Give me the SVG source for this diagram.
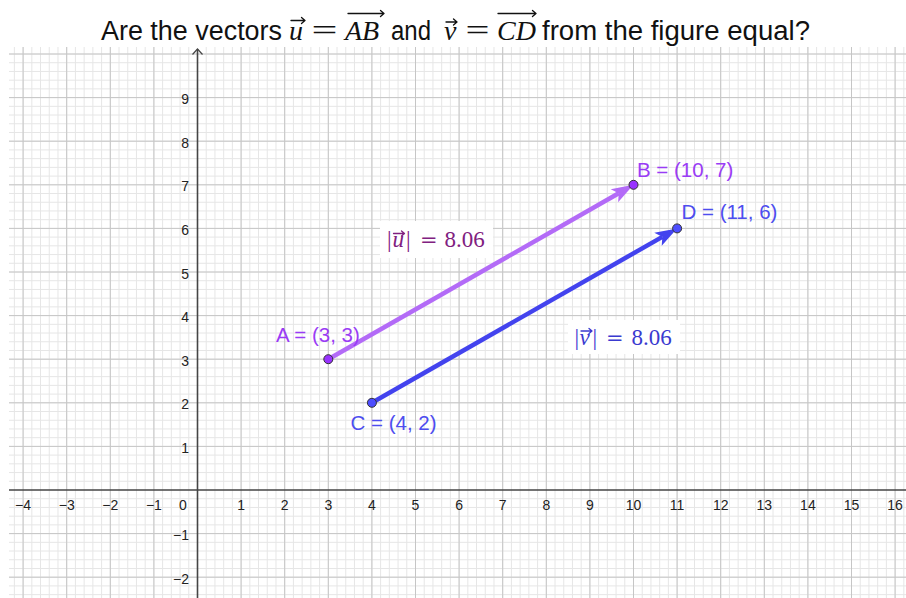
<svg xmlns="http://www.w3.org/2000/svg" width="906" height="598" viewBox="0 0 906 598">
<style>
.minor{stroke:#e6e6e6;stroke-width:1;fill:none}
.major{stroke:#c6c6c6;stroke-width:1;fill:none}
.axis{stroke:#454545;stroke-width:1.6;fill:none}
.tick{font-family:"Liberation Sans",Arial,sans-serif;font-size:14px;fill:#222}
.tx{text-anchor:middle}
.ty{text-anchor:end}
.title{font-family:"Liberation Sans",Arial,sans-serif;font-size:27px;fill:#111}
.tmath{font-family:"Liberation Serif","Times New Roman",serif;font-style:italic;font-size:28px;fill:#111}
.teq{font-family:"Liberation Serif","Times New Roman",serif;font-size:29px;fill:#111}
.marr{fill:none;stroke-width:1.3;stroke-linecap:round;stroke-linejoin:round}
.plab{font-family:"Liberation Sans",Arial,sans-serif;font-size:20.5px}
.ml{font-family:"Liberation Serif","Times New Roman",serif;font-size:23px}
.mli{font-style:italic}
.pt{stroke:#333;stroke-width:1}
.vu{stroke:#b36bf7;stroke-width:4.5;fill:none}
.vv{stroke:#4343ee;stroke-width:4.5;fill:none}
</style>
<rect width="906" height="598" fill="#fff"/>
<g id="grid">
<path class="minor" d="M14.38,47v551M23.1,47v551M31.82,47v551M40.54,47v551M49.26,47v551M57.98,47v551M66.7,47v551M75.42,47v551M84.14,47v551M92.86,47v551M101.58,47v551M110.3,47v551M119.02,47v551M127.74,47v551M136.46,47v551M145.18,47v551M153.9,47v551M162.62,47v551M171.34,47v551M180.06,47v551M188.78,47v551M206.22,47v551M214.94,47v551M223.66,47v551M232.38,47v551M241.1,47v551M249.82,47v551M258.54,47v551M267.26,47v551M275.98,47v551M284.7,47v551M293.42,47v551M302.14,47v551M310.86,47v551M319.58,47v551M328.3,47v551M337.02,47v551M345.74,47v551M354.46,47v551M363.18,47v551M371.9,47v551M380.62,47v551M389.34,47v551M398.06,47v551M406.78,47v551M415.5,47v551M424.22,47v551M432.94,47v551M441.66,47v551M450.38,47v551M459.1,47v551M467.82,47v551M476.54,47v551M485.26,47v551M493.98,47v551M502.7,47v551M511.42,47v551M520.14,47v551M528.86,47v551M537.58,47v551M546.3,47v551M555.02,47v551M563.74,47v551M572.46,47v551M581.18,47v551M589.9,47v551M598.62,47v551M607.34,47v551M616.06,47v551M624.78,47v551M633.5,47v551M642.22,47v551M650.94,47v551M659.66,47v551M668.38,47v551M677.1,47v551M685.82,47v551M694.54,47v551M703.26,47v551M711.98,47v551M720.7,47v551M729.42,47v551M738.14,47v551M746.86,47v551M755.58,47v551M764.3,47v551M773.02,47v551M781.74,47v551M790.46,47v551M799.18,47v551M807.9,47v551M816.62,47v551M825.34,47v551M834.06,47v551M842.78,47v551M851.5,47v551M860.22,47v551M868.94,47v551M877.66,47v551M886.38,47v551M895.1,47v551M903.82,47v551
M9,54h897M9,62.72h897M9,71.44h897M9,80.16h897M9,88.88h897M9,97.6h897M9,106.32h897M9,115.04h897M9,123.76h897M9,132.48h897M9,141.2h897M9,149.92h897M9,158.64h897M9,167.36h897M9,176.08h897M9,184.8h897M9,193.52h897M9,202.24h897M9,210.96h897M9,219.68h897M9,228.4h897M9,237.12h897M9,245.84h897M9,254.56h897M9,263.28h897M9,272h897M9,280.72h897M9,289.44h897M9,298.16h897M9,306.88h897M9,315.6h897M9,324.32h897M9,333.04h897M9,341.76h897M9,350.48h897M9,359.2h897M9,367.92h897M9,376.64h897M9,385.36h897M9,394.08h897M9,402.8h897M9,411.52h897M9,420.24h897M9,428.96h897M9,437.68h897M9,446.4h897M9,455.12h897M9,463.84h897M9,472.56h897M9,481.28h897M9,498.72h897M9,507.44h897M9,516.16h897M9,524.88h897M9,533.6h897M9,542.32h897M9,551.04h897M9,559.76h897M9,568.48h897M9,577.2h897M9,585.92h897M9,594.64h897"/>
<path class="major" d="M23.1,47v551M66.7,47v551M110.3,47v551M153.9,47v551M241.1,47v551M284.7,47v551M328.3,47v551M371.9,47v551M415.5,47v551M459.1,47v551M502.7,47v551M546.3,47v551M589.9,47v551M633.5,47v551M677.1,47v551M720.7,47v551M764.3,47v551M807.9,47v551M851.5,47v551M895.1,47v551
M9,54h897M9,97.6h897M9,141.2h897M9,184.8h897M9,228.4h897M9,272h897M9,315.6h897M9,359.2h897M9,402.8h897M9,446.4h897M9,533.6h897M9,577.2h897"/>
</g>
<g id="axes">
<path class="axis" d="M9,490H906M197.5,49V598"/>
<path d="M192.5,54.5L197.5,49L202.5,54.5" fill="none" stroke="#454545" stroke-width="1.2"/>
</g>
<g id="ticks" class="tick">
<text class="tx" x="23.1" y="510">−4</text>
<text class="tx" x="66.7" y="510">−3</text>
<text class="tx" x="110.3" y="510">−2</text>
<text class="tx" x="153.9" y="510">−1</text>
<text class="tx" x="183" y="510">0</text>
<text class="tx" x="241.1" y="510">1</text>
<text class="tx" x="284.7" y="510">2</text>
<text class="tx" x="328.3" y="510">3</text>
<text class="tx" x="371.9" y="510">4</text>
<text class="tx" x="415.5" y="510">5</text>
<text class="tx" x="459.1" y="510">6</text>
<text class="tx" x="502.7" y="510">7</text>
<text class="tx" x="546.3" y="510">8</text>
<text class="tx" x="589.9" y="510">9</text>
<text class="tx" x="633.5" y="510">10</text>
<text class="tx" x="677.1" y="510">11</text>
<text class="tx" x="720.7" y="510">12</text>
<text class="tx" x="764.3" y="510">13</text>
<text class="tx" x="807.9" y="510">14</text>
<text class="tx" x="851.5" y="510">15</text>
<text class="tx" x="895.1" y="510">16</text>
<text class="ty" x="189" y="104.1">9</text>
<text class="ty" x="189" y="147.7">8</text>
<text class="ty" x="189" y="191.3">7</text>
<text class="ty" x="189" y="234.9">6</text>
<text class="ty" x="189" y="278.5">5</text>
<text class="ty" x="189" y="322.1">4</text>
<text class="ty" x="189" y="365.7">3</text>
<text class="ty" x="189" y="409.3">2</text>
<text class="ty" x="189" y="452.9">1</text>
<text class="ty" x="189" y="540.1">−1</text>
<text class="ty" x="189" y="583.7">−2</text>
</g>
<g id="connectors">
<g id="vector-u">
<path class="vu" d="M328.3,359.2L618.74,193.24"/>
<path d="M0,0L-22,-7.5L-17,0L-22,7.5Z" fill="#b36bf7" transform="translate(633.5,184.8) rotate(-29.74)"/>
</g>
<g id="vector-v">
<path class="vv" d="M371.9,402.8L662.34,236.84"/>
<path d="M0,0L-22,-7.5L-17,0L-22,7.5Z" fill="#4343ee" transform="translate(677.1,228.4) rotate(-29.74)"/>
</g>
</g>
<g id="label-u-length">
<rect x="380" y="221" width="113" height="37" fill="#fff"/>
<text class="ml" y="247" fill="#802080"><tspan x="387">|</tspan><tspan class="mli" x="392.5">u</tspan><tspan x="406">|</tspan><tspan x="420" font-family="DejaVu Serif" font-size="21">=</tspan><tspan x="444.5">8.06</tspan></text>
<path class="marr" stroke="#802080" d="M393.5,233.5H404.5M401.5,231L404.5,233.5L401.5,236"/>
</g>
<g id="label-v-length">
<rect x="568" y="320" width="112" height="34" fill="#fff"/>
<text class="ml" y="345" fill="#3a3ad0"><tspan x="574.5">|</tspan><tspan class="mli" x="579.5">v</tspan><tspan x="592.5">|</tspan><tspan x="606" font-family="DejaVu Serif" font-size="21">=</tspan><tspan x="631.5">8.06</tspan></text>
<path class="marr" stroke="#3a3ad0" d="M581,331H592M589,328.5L592,331L589,333.5"/>
</g>
<g id="point-A">
<circle class="pt" cx="328.3" cy="359.2" r="4.5" fill="#9933ff"/>
<text class="plab" x="276" y="342" fill="#9a3cf5">A = (3, 3)</text>
</g>
<g id="point-B">
<circle class="pt" cx="633.5" cy="184.8" r="4.5" fill="#9933ff"/>
<text class="plab" x="637" y="177" fill="#9a3cf5">B = (10, 7)</text>
</g>
<g id="point-C">
<circle class="pt" cx="371.9" cy="402.8" r="4.5" fill="#4d4dff"/>
<text class="plab" x="350.5" y="430" fill="#4d4def">C = (4, 2)</text>
</g>
<g id="point-D">
<circle class="pt" cx="677.1" cy="228.4" r="4.5" fill="#4d4dff"/>
<text class="plab" x="681.5" y="219" fill="#4d4def">D = (11, 6)</text>
</g>
<g id="title">
<text class="title" x="101" y="40" textLength="181" lengthAdjust="spacingAndGlyphs">Are the vectors</text>
<text class="tmath" x="289" y="40">u</text>
<path class="marr" stroke="#111" d="M291,20.5H305M301.5,17.5L305,20.5L301.5,23.5"/>
<text class="teq" x="311.5" y="40" textLength="26" lengthAdjust="spacingAndGlyphs">=</text>
<text class="tmath" x="345" y="40">AB</text>
<path class="marr" stroke="#111" d="M348,13.5H384M380.5,10.5L384,13.5L380.5,16.5"/>
<text class="title" x="391" y="40" textLength="40" lengthAdjust="spacingAndGlyphs">and</text>
<text class="tmath" x="444" y="40">v</text>
<path class="marr" stroke="#111" d="M446,22H457M453.5,19L457,22L453.5,25"/>
<text class="teq" x="465.5" y="40" textLength="24" lengthAdjust="spacingAndGlyphs">=</text>
<text class="tmath" x="497" y="40" textLength="39" lengthAdjust="spacingAndGlyphs">CD</text>
<path class="marr" stroke="#111" d="M498,13.5H536M532.5,10.5L536,13.5L532.5,16.5"/>
<text class="title" x="542" y="40" textLength="268" lengthAdjust="spacingAndGlyphs">from the figure equal?</text>
</g>
</svg>
